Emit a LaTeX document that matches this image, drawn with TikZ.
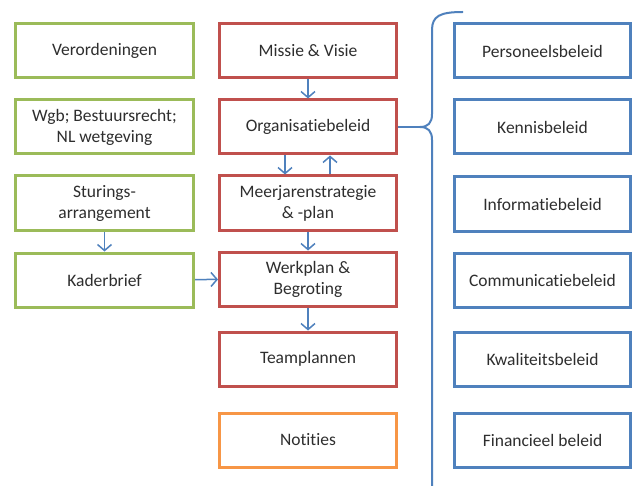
\documentclass[tikz,border=0pt]{standalone}
\usepackage{fontspec}
\setmainfont{Carlito}[Ligatures=NoCommon]
\usetikzlibrary{arrows.meta}
\definecolor{gr}{HTML}{9BBB59}
\definecolor{rd}{HTML}{C0504D}
\definecolor{bl}{HTML}{4F81BD}
\definecolor{og}{HTML}{F79646}
\definecolor{tx}{HTML}{2E2E2E}
\begin{document}
\begin{tikzpicture}[x=1pt,y=-1pt,
  box/.style={draw, line width=3pt, minimum width=178pt, minimum height=54pt, inner sep=2pt,
    align=center, text=tx, font=\fontsize{17.5}{21}\selectfont, fill=white},
  gbox/.style={box, draw=gr},
  rbox/.style={box, draw=rd, minimum width=177pt},
  bbox/.style={box, draw=bl, minimum width=176pt},
  obox/.style={box, draw=og, minimum width=177pt},
  arr/.style={draw=bl, line width=1.5pt, -{Straight Barb[length=6pt,width=14pt,line width=1.5pt]}},
  brace/.style={draw=bl, line width=2pt}]
\useasboundingbox (0,0) rectangle (636,486);
\fill[white] (0,0) rectangle (636,486);
% left column
\node[gbox] (ver) at (104.5,51) {Verordeningen};
\node[gbox] (wgb) at (104.5,127) {Wgb; Bestuursrecht;\\NL wetgeving};
\node[gbox] (stu) at (104.5,203) {Sturings-\\arrangement};
\node[gbox] (kad) at (104.5,280) {Kaderbrief};
% middle column
\node[rbox] (mis) at (308,51) {Missie \& Visie};
\node[rbox] (org) at (308,127) {Organisatiebeleid};
\node[rbox] (mee) at (308,203) {Meerjarenstrategie\\\& -plan};
\node[rbox] (wer) at (308,279) {Werkplan \&\\Begroting};
\node[rbox] (tea) at (308,359) {Teamplannen};
\node[obox] (not) at (308,440) {Notities};
% right column
\node[bbox] (per) at (542.5,51) {Personeelsbeleid};
\node[bbox] (ken) at (542.5,127) {Kennisbeleid};
\node[bbox] (inf) at (542.5,204) {Informatiebeleid};
\node[bbox] (com) at (542.5,280) {Communicatiebeleid};
\node[bbox] (kwa) at (542.5,359) {Kwaliteitsbeleid};
\node[bbox] (fin) at (542.5,440) {Financieel beleid};
% arrows
\draw[arr] (mis) -- (org);
\draw[arr] ([xshift=-23pt]org.south) -- ([xshift=-23pt]mee.north);
\draw[arr] ([xshift=22pt]mee.north) -- ([xshift=22pt]org.south);
\draw[arr] (mee) -- (wer);
\draw[arr] (wer) -- (tea);
\draw[arr] (stu) -- (kad);
\draw[arr] (kad) -- (wer);
% brace
\coordinate (tip) at (420,127);
\coordinate (btop) at (463,12);
\coordinate (bbot) at (432,486);
\draw[brace] (org.east) -- (tip);
\draw[brace] (btop) .. controls (440,12) and (432,16) .. (432,30) -- (432,114)
  .. controls (432,123) and (428,127) .. (tip)
  .. controls (428,127) and (432,131) .. (432,140) -- (bbot);
\end{tikzpicture}
\end{document}
